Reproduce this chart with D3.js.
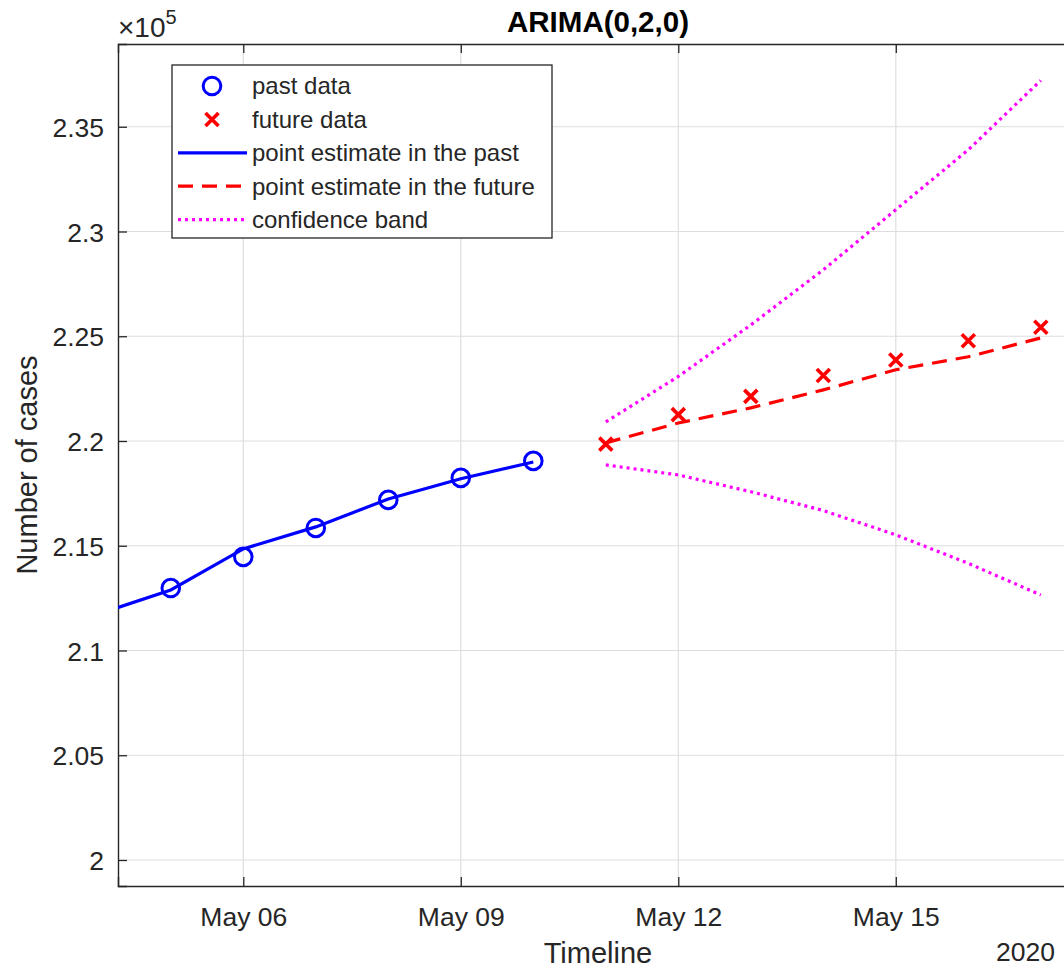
<!DOCTYPE html>
<html>
<head>
<meta charset="utf-8">
<script src="https://cdn.jsdelivr.net/npm/d3@7"></script>
<style>
  body { margin: 0; background: #fff; }
  svg text { font-family: "Liberation Sans", Arial, sans-serif; }
</style>
</head>
<body>
<script>
// days of May 2020
const pastDays = [5, 6, 7, 8, 9, 10];
const pastCases = [212980, 214470, 215850, 217190, 218240, 219050];

const fitDays = [4, 5, 6, 7, 8, 9, 10];
const fitCases = [211740, 212890, 214850, 215900, 217230, 218200, 219000];

const futureDays = [11, 12, 13, 14, 15, 16, 17];
const futureCases = [219850, 221260, 222130, 223130, 223870, 224790, 225430];
const forecastCases = [219910, 220860, 221580, 222440, 223400, 224020, 224920];
const upperCases = [220910, 223080, 225540, 228170, 231040, 233900, 237210];
const lowerCases = [218860, 218380, 217580, 216680, 215520, 214160, 212650];

const xTickDays = [6, 9, 12, 15];
const yTicks = [2, 2.05, 2.1, 2.15, 2.2, 2.25, 2.3, 2.35];

const legendLabels = ["past data", "future data", "point estimate in the past",
                      "point estimate in the future", "confidence band"];

const W = 1064, H = 969;
const axL = 118, axR = 1078, axT = 44, axB = 886;
const ink = "#262626";

const may = d => new Date(2020, 4, d);
const dayDate = d => new Date(new Date(2020, 4, 1).getTime() + (d - 1) * 864e5);

let svg = d3.select("body").append("svg")
    .attr("width", W)
    .attr("height", H);

let x = d3.scaleTime()
    .domain([dayDate(4.272), dayDate(17.513)])
    .range([axL, axR]);

let y = d3.scaleLinear()
    .domain([1.98759, 2.38950])
    .range([axB, axT]);

// grid
svg.append("g").selectAll("line")
    .data(xTickDays).enter().append("line")
    .attr("x1", d => x(may(d))).attr("x2", d => x(may(d)))
    .attr("y1", axT).attr("y2", axB)
    .attr("stroke", "#dedede").attr("stroke-width", 1.2);

svg.append("g").selectAll("line")
    .data(yTicks).enter().append("line")
    .attr("x1", axL).attr("x2", axR)
    .attr("y1", d => y(d)).attr("y2", d => y(d))
    .attr("stroke", "#dedede").attr("stroke-width", 1.2);

// axes (MATLAB style: ticks inside, box)
let xAxis = d3.axisBottom(x)
    .tickValues(xTickDays.map(may))
    .tickSize(-9)
    .tickPadding(20)
    .tickFormat(d3.timeFormat("%b %d"));

let gx = svg.append("g")
    .attr("transform", `translate(0, ${axB})`)
    .call(xAxis);

let xTop = d3.axisTop(x)
    .tickValues(xTickDays.map(may))
    .tickSize(-9)
    .tickFormat("");
let gxt = svg.append("g")
    .attr("transform", `translate(0, ${axT})`)
    .call(xTop);

let yAxis = d3.axisLeft(y)
    .tickValues(yTicks)
    .tickSize(-9)
    .tickPadding(14)
    .tickFormat(d => String(+d.toFixed(2)));

let gy = svg.append("g")
    .attr("transform", `translate(${axL}, 0)`)
    .call(yAxis);

[gx, gxt, gy].forEach(g => {
    g.select(".domain").attr("stroke", ink).attr("stroke-width", 1.4);
    g.selectAll(".tick line").attr("stroke", ink).attr("stroke-width", 1.3);
    g.selectAll(".tick text")
        .attr("fill", ink)
        .style("font-size", "26.5px")
        .style("font-family", "'Liberation Sans', Arial, sans-serif");
});
gx.selectAll(".tick text").attr("dy", "0.71em").attr("y", 21);
gy.selectAll(".tick text").attr("dy", "0.36em");

// plotting area
svg.append("clipPath").attr("id", "clip")
    .append("rect")
    .attr("x", axL).attr("y", axT)
    .attr("width", axR - axL).attr("height", axB - axT);

let plot = svg.append("g").attr("clip-path", "url(#clip)");

let line = d3.line()
    .x(d => x(may(d[0])))
    .y(d => y(d[1] / 1e5));

plot.append("path")
    .datum(d3.zip(fitDays, fitCases))
    .attr("d", line)
    .attr("fill", "none")
    .attr("stroke", "#0000ff")
    .attr("stroke-width", 3.2);

plot.append("path")
    .datum(d3.zip(futureDays, forecastCases))
    .attr("d", line)
    .attr("fill", "none")
    .attr("stroke", "#ff0000")
    .attr("stroke-width", 3.2)
    .attr("stroke-dasharray", "15,9");

[upperCases, lowerCases].forEach(band => {
    plot.append("path")
        .datum(d3.zip(futureDays, band))
        .attr("d", line)
        .attr("fill", "none")
        .attr("stroke", "#ff00ff")
        .attr("stroke-width", 3.2)
        .attr("stroke-dasharray", "3,4");
});

plot.selectAll("circle")
    .data(d3.zip(pastDays, pastCases))
    .enter().append("circle")
    .attr("cx", d => x(may(d[0])))
    .attr("cy", d => y(d[1] / 1e5))
    .attr("r", 8.8)
    .attr("fill", "none")
    .attr("stroke", "#0000ff")
    .attr("stroke-width", 3);

const cross = (g, cx, cy, s) => {
    g.append("path")
        .attr("d", `M${cx - s},${cy - s}L${cx + s},${cy + s}M${cx - s},${cy + s}L${cx + s},${cy - s}`)
        .attr("stroke", "#ff0000")
        .attr("stroke-width", 3.6)
        .attr("fill", "none");
};
d3.zip(futureDays, futureCases).forEach(d => {
    cross(plot, x(may(d[0])), y(d[1] / 1e5), 6.5);
});

// labels
svg.append("text")
    .attr("x", 598).attr("y", 32)
    .attr("text-anchor", "middle")
    .style("font-size", "29.5px")
    .style("font-weight", "bold")
    .attr("fill", "#000")
    .text("ARIMA(0,2,0)");

svg.append("text")
    .attr("x", 598).attr("y", 963)
    .attr("text-anchor", "middle")
    .style("font-size", "29px")
    .attr("fill", ink)
    .text("Timeline");

svg.append("text")
    .attr("x", 1055).attr("y", 961)
    .attr("text-anchor", "end")
    .style("font-size", "26.5px")
    .attr("fill", ink)
    .text("2020");

svg.append("text")
    .attr("transform", `translate(37, ${(axT + axB) / 2}) rotate(-90)`)
    .attr("text-anchor", "middle")
    .style("font-size", "29px")
    .attr("fill", ink)
    .text("Number of cases");

let expo = svg.append("text")
    .attr("x", 118).attr("y", 37)
    .style("font-size", "28px")
    .attr("fill", ink);
expo.append("tspan").text("×10");
expo.append("tspan")
    .attr("dy", -13)
    .style("font-size", "20px")
    .text("5");

// legend
let lg = svg.append("g");
lg.append("rect")
    .attr("x", 172).attr("y", 65)
    .attr("width", 380).attr("height", 173)
    .attr("fill", "#fff")
    .attr("stroke", ink)
    .attr("stroke-width", 1.3);

const rowY = i => 86 + i * 33.4;

lg.selectAll("text")
    .data(legendLabels).enter().append("text")
    .attr("x", 252)
    .attr("y", (d, i) => rowY(i))
    .attr("dy", "0.35em")
    .style("font-size", "24px")
    .attr("fill", ink)
    .text(d => d);

lg.append("circle")
    .attr("cx", 212).attr("cy", rowY(0))
    .attr("r", 8.8)
    .attr("fill", "none")
    .attr("stroke", "#0000ff")
    .attr("stroke-width", 3);
cross(lg, 212, rowY(1), 6.5);

const legendLines = [
    {row: 2, color: "#0000ff", dash: null},
    {row: 3, color: "#ff0000", dash: "15,9"},
    {row: 4, color: "#ff00ff", dash: "3,4"}
];
legendLines.forEach(l => {
    lg.append("line")
        .attr("x1", 178).attr("x2", 247)
        .attr("y1", rowY(l.row)).attr("y2", rowY(l.row))
        .attr("stroke", l.color)
        .attr("stroke-width", 3.2)
        .attr("stroke-dasharray", l.dash);
});
</script>
</body>
</html>
